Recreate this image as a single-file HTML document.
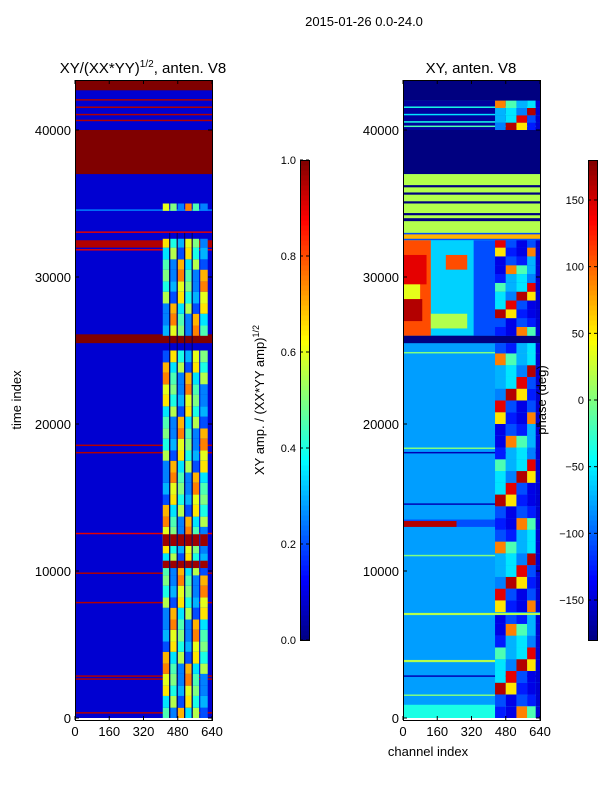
<!DOCTYPE html>
<html><head><meta charset="utf-8">
<style>
body{margin:0;background:#fff;}
svg{display:block;font-family:"Liberation Sans",sans-serif;}
</style></head>
<body>
<svg id="c" width="600" height="800" xmlns="http://www.w3.org/2000/svg">
<text x="364" y="26" font-size="13" text-anchor="middle">2015-01-26 0.0-24.0</text>
<text x="143" y="73" font-size="15" text-anchor="middle">XY/(XX*YY)<tspan font-size="10" dy="-6">1/2</tspan><tspan dy="6">, anten. V8</tspan></text>
<text x="471" y="73" font-size="15" text-anchor="middle">XY, anten. V8</text>
<text transform="translate(21,400) rotate(-90)" font-size="13" text-anchor="middle">time index</text>
<text x="428" y="756" font-size="13" text-anchor="middle">channel index</text>
<text transform="translate(264,400) rotate(-90)" font-size="13" text-anchor="middle">XY amp. / (XX*YY amp)<tspan font-size="9" dy="-5">1/2</tspan></text>
<g id="L"></g>
<g id="R"></g>
<text transform="translate(546,400) rotate(-90)" font-size="13" text-anchor="middle">phase (deg)</text>
<g id="AX"></g>
</svg>
<script>
// ---- data ----
const yTicks=[0,10000,20000,30000,40000];
const xTicks=[0,160,320,480,640];
const ampTicks=[0.0,0.2,0.4,0.6,0.8,1.0];
const phaseTicks=[-150,-100,-50,0,50,100,150];
// amplitude bands: [tStart,tEnd,value]
const ampBands=[[0,43500,0.08],[42700,43500,1.0],[41000,41100,0.95],[41500,41600,0.95],[42000,42100,0.95],[40600,40700,0.95],[37000,40000,1.0],
[32000,32500,0.95],[25500,26100,1.0],[31800,31900,0.9],[18500,18600,0.95],[18000,18100,0.95],[12500,12600,0.9],[9800,9900,0.95],[7800,7900,0.95],[2800,2900,0.95],[2600,2700,0.95],[300,400,0.95],[33000,33100,0.9],[34500,34600,0.25]];
// amplitude active channel columns
const ampCols=[[410,440],[445,475],[480,510],[515,545],[550,580],[585,620]];
// active time bands [tStart,tEnd]
const ampActive=[[0,700],[700,1500],[1500,2200],[2200,3000],[3000,3700],[3700,4500],[4500,5200],[5200,6000],[6000,6700],[6700,7500],[7500,8200],[8200,9000],[9000,9700],[9700,10500],[10500,11200],[11200,12000],[12000,13000],[13000,13700],[13700,14500],[14500,15200],[15200,16000],[16000,16700],[16700,17500],[17500,18200],[18200,19000],[19000,19700],[19700,20500],[20500,21200],[21200,22000],[22000,22700],[22700,23500],[23500,24200],[24200,25000],[26000,26700],[26700,27500],[27500,28200],[28200,29000],[29000,29700],[29700,30500],[30500,31200],[31200,32000],[32000,32600],[34500,35000]];
const ampPattern=[0.45,0.25,0.7,0.35,0.55,0.2,0.65,0.4,0.3,0.6,0.5,0.25,0.75];
const ampHot=[[11700,12500],[10200,10700]];
// phase bands [tStart,tEnd,value(0-1)]
const phaseBands=[[0,43500,0.3],[42000,43500,0.0],[40000,42000,0.03],[41500,41600,0.4],[41000,41100,0.35],[40500,40600,0.4],[40200,40300,0.45],[37000,40000,0.0],[33000,37000,0.55],[34200,34350,0.0],[35000,35150,0.0],[35600,35750,0.0],[36100,36250,0.0],[33800,34000,0.0],
[34700,35000,0.55],[32500,33000,0.2],[26000,32500,0.33],[25500,26000,0.0],[0,25500,0.28],[7000,7150,0.55],[3800,3950,0.55],[1500,1600,0.5],[0,900,0.4],[13000,13500,0.2],[18000,18100,0.05],[14500,14600,0.05],[18300,18400,0.5],[24800,24900,0.5],[11000,11100,0.5],[2800,2900,0.05]];
// phase sub-regions [tStart,tEnd,chStart,chEnd,value]
const phaseRegions=[[26000,32500,0,130,0.8],[27000,28500,0,90,0.95],[29500,31500,0,110,0.9],[28500,29500,0,80,0.6],[26500,27500,130,300,0.55],[30500,31500,200,300,0.8],
[26000,32500,330,640,0.2],[32600,32900,0,640,0.7],[13000,13400,0,250,0.95],[25500,26000,0,640,0.0]];
// phase active channel columns
const phCols=[[430,480],[480,530],[530,580],[580,620],[620,640]];
const phActive=[[0,800],[800,1600],[1600,2400],[2400,3200],[3200,4000],[4000,4800],[4800,5600],[5600,6400],[6400,7000],[7200,8000],[8000,8800],[8800,9600],[9600,10400],[10400,11200],[11200,12000],[12000,12800],[12800,13600],[13600,14400],[14400,15200],[15200,16000],[16000,16800],[16800,17600],[17600,18400],[18400,19200],[19200,20000],[20000,20800],[20800,21600],[21600,22400],[22400,23200],[23200,24000],[24000,24800],[24800,25500],
[26000,26600],[26600,27200],[27200,27800],[27800,28400],[28400,29000],[29000,29600],[29600,30200],[30200,30800],[30800,31400],[31400,32000],[32000,32500],[40000,40500],[40500,41000],[41000,41500],[41500,42000]];
const phPattern=[0.15,0.3,0.9,0.1,0.35,0.2,0.75,0.25,0.1,0.45,0.95,0.2,0.3,0.65,0.15,0.35];
// ---- geometry ----
const Y0=718,YS=147/10000,plotTop=80,plotBot=720;
const LX=75,RX=403,XS=137/640;
const ns="http://www.w3.org/2000/svg";
function jet(v){v=Math.max(0,Math.min(1,v));
 const f=(x)=>Math.max(0,Math.min(1,1.5-Math.abs(4*v-x)));
 return "rgb("+Math.round(255*f(3))+","+Math.round(255*f(2))+","+Math.round(255*f(1))+")";}
function ty(t){return Math.max(plotTop,Math.min(plotBot,Y0-t*YS));}
function rect(g,x,y,w,h,fill,name){const r=document.createElementNS(ns,"rect");
 r.setAttribute("x",x);r.setAttribute("y",y);r.setAttribute("width",w);r.setAttribute("height",Math.max(h,1));r.setAttribute("fill",fill);
 
 
 g.appendChild(r);return r;}
function cell(g,ox,t0,t1,c0,c1,v,name){const y1=ty(t1),y0=ty(t0);rect(g,ox+c0*XS,y1,(c1-c0)*XS,y0-y1,jet(v),name);}
const L=document.getElementById("L"),R=document.getElementById("R"),AX=document.getElementById("AX");
ampBands.forEach(b=>cell(L,LX,b[0],b[1],0,640,b[2],"amp-band"));
ampActive.forEach((b,i)=>ampCols.forEach((c,j)=>cell(L,LX,b[0],b[1],c[0],c[1],ampPattern[(i*3+j)%ampPattern.length],"amp-cell")));
ampHot.forEach(b=>ampCols.forEach(c=>cell(L,LX,b[0],b[1],c[0],c[1],0.97,"amp-hot-cell")));
phaseBands.forEach(b=>cell(R,RX,b[0],b[1],0,640,b[2],"phase-band"));
phaseRegions.forEach(b=>cell(R,RX,b[0],b[1],b[2],b[3],b[4],"phase-cell"));
phActive.forEach((b,i)=>phCols.forEach((c,j)=>cell(R,RX,b[0],b[1],c[0],c[1],j==4?0.08:phPattern[(i*5+j*3)%phPattern.length],"phase-active-cell")));
// vertical dark lines in active columns
[440,475,510,545].forEach(c=>{rect(L,LX+c*XS,ty(33000),1,ty(0)-ty(33000),"#000050","amp-column-line");});
// axes
function frame(x,y,w,h,name){const r=rect(AX,x,y,w,h,"none",name);r.setAttribute("stroke","#000");r.setAttribute("stroke-width","1");}
function txt(x,y,s,anchor,size,name){const t=document.createElementNS(ns,"text");t.setAttribute("x",x);t.setAttribute("y",y);t.setAttribute("font-size",size);t.setAttribute("text-anchor",anchor);t.textContent=s;
 
 
 AX.appendChild(t);}
function line(x1,y1,x2,y2,name){const l=document.createElementNS(ns,"line");l.setAttribute("x1",x1);l.setAttribute("y1",y1);l.setAttribute("x2",x2);l.setAttribute("y2",y2);l.setAttribute("stroke","#000");
 
 
 AX.appendChild(l);}
[LX,RX].forEach(ox=>{frame(ox+0.5,plotTop+0.5,137,plotBot-plotTop,"plot-frame");
 yTicks.forEach(t=>{const y=Y0-t*YS;line(ox,y,ox+4,y,"y-tick");line(ox+137,y,ox+133,y,"y-tick");txt(ox-4,y+5,String(t),"end",13,"y-tick-label");});
 xTicks.forEach(c=>{const x=ox+c*XS;line(x,plotBot,x,plotBot-4,"x-tick");line(x,plotTop,x,plotTop+4,"x-tick");txt(x,plotBot+16,String(c),"middle",13,"x-tick-label");});
});
// colorbars
const CT=160,CB=640;
function cbar(x,ticks,lo,hi,fmt,name){for(let i=0;i<96;i++){const v=i/96;rect(AX,x,CB-(i+1)*5,9,5.5,jet(v+1/192),name+"-segment");}
 frame(x+0.5,CT+0.5,9,CB-CT,name+"-frame");
 ticks.forEach(t=>{const y=CB-(t-lo)/(hi-lo)*(CB-CT);line(x,y,x+3,y,name+"-tick");line(x+9,y,x+6,y,name+"-tick");txt(x-4,y+4,fmt(t),"end",11,name+"-tick-label");});}
cbar(300,ampTicks,0,1,t=>t.toFixed(1),"amp-colorbar");
cbar(588,phaseTicks,-180,180,t=>t<0?"\u2212"+(-t):String(t),"phase-colorbar");
</script>
</body></html>
